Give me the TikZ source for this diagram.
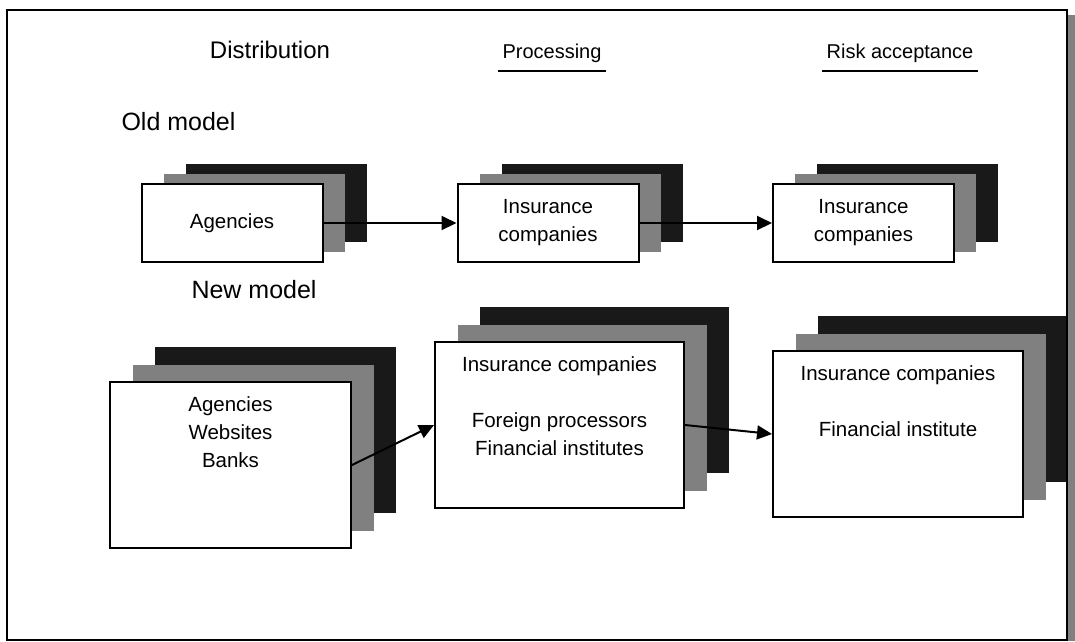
\documentclass[tikz,border=0pt]{standalone}
\usepackage{fontspec}
\setmainfont{Liberation Sans}
\usetikzlibrary{arrows.meta,calc,backgrounds}
\newcommand{\boxfont}{\fontsize{20.5pt}{28pt}\selectfont}
\newcommand{\boxtext}[2]{\parbox[c][166pt][t]{#1}{\centering\vspace*{15pt}#2}}

\begin{document}
\begin{tikzpicture}
[x=1pt,y=-1pt,
edge/.style={black,line width=2pt,-{Triangle[length=15pt,width=14pt]}},
front/.style={draw=black,line width=2pt,fill=white,inner sep=0pt,font=\boxfont},
grey layer/.style={fill=black!50,inner sep=0pt},
dark layer/.style={fill=black!90,inner sep=0pt},
oldsize/.style={minimum width=181pt,minimum height=78pt,align=center},
newsize/.style={minimum width=#1,minimum height=166pt},
head/.style={anchor=base,font=\fontsize{20pt}{24pt}\selectfont,inner xsep=4pt,inner ysep=0pt,text depth=13pt},
model/.style={anchor=base west,font=\fontsize{25pt}{30pt}\selectfont}]
\useasboundingbox (0,0) rectangle (1075,641);
%% frame
\fill[black!50] (1068,15) rectangle (1075,641);
\draw[line width=2pt] (7,10) rectangle (1067,639.5);
%% column titles
\node[anchor=base,font=\fontsize{24pt}{28pt}\selectfont] (dist) at (270,58) {Distribution};
\node[head] (proc) at (552,58) {Processing};
\node[head] (risk) at (900,58) {Risk acceptance};
\draw[line width=2pt] (proc.south west) -- (proc.south east);
\draw[line width=2pt] (risk.south west) -- (risk.south east);
%% old model
\node[model] (old) at (118,130) {Old model};
\node[front,oldsize] (agold) at (232,223) {Agencies};
\node[front,oldsize] (procold) at (548,223) {Insurance\\companies};
\node[front,oldsize] (riskold) at (863.5,223) {Insurance\\companies};
\begin{scope}[on background layer]
\foreach \n in {agold,procold,riskold}{
  \node[dark layer,oldsize] (\n-dark) at ([shift={(44,-20)}]\n.center) {};
  \node[grey layer,oldsize] (\n-grey) at ([shift={(22,-10)}]\n.center) {};
}
\end{scope}
\draw[edge] (agold) -- (procold);
\draw[edge] (procold) -- (riskold);
%% new model
\node[model] (new) at (188,298) {New model};
\node[front,newsize=241pt] (agnew) at (230.5,465)
  {\boxtext{241pt}{Agencies\\Websites\\Banks}};
\node[front,newsize=249pt] (procnew) at (559.5,425)
  {\boxtext{249pt}{Insurance companies\\[\baselineskip]Foreign processors\\Financial institutes}};
\node[front,newsize=250pt] (risknew) at (898,434)
  {\boxtext{250pt}{Insurance companies\\[\baselineskip]Financial institute}};
\begin{scope}[on background layer]
\foreach \n/\w in {agnew/241pt,procnew/249pt,risknew/250pt}{
  \node[dark layer,newsize=\w] (\n-dark) at ([shift={(45,-35)}]\n.center) {};
  \node[grey layer,newsize=\w] (\n-grey) at ([shift={(22.5,-17.5)}]\n.center) {};
}
\end{scope}
\draw[edge] (agnew.east) -- (procnew.west);
\draw[edge] (procnew.east) -- (risknew.west);
\end{tikzpicture}
\end{document}
